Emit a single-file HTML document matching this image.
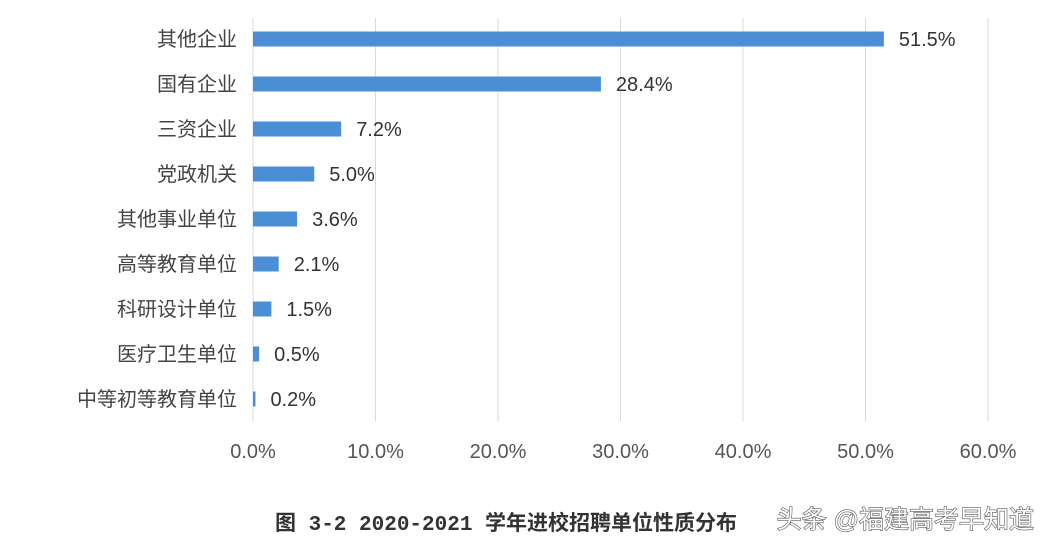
<!DOCTYPE html>
<html><head><meta charset="utf-8"><style>
html,body{margin:0;padding:0;background:#fff;}
body{width:1048px;height:546px;overflow:hidden;font-family:"Liberation Sans","Noto Sans CJK SC",sans-serif;}
</style></head><body>
<svg id="chart" width="1048" height="546" xmlns="http://www.w3.org/2000/svg" style="font-family:'Liberation Sans','Noto Sans CJK SC',sans-serif">
<g id="grid"></g>
<g id="bars"></g>
<g id="ylab"></g>
<g id="xlab"></g>
<text x="275" y="530" font-size="21" font-weight="bold" fill="#333" font-family="'Liberation Mono','Noto Sans CJK SC',monospace">图 3-2 2020-2021 学年进校招聘单位性质分布</text>
<text x="1034" y="528" text-anchor="end" font-size="25" fill="#fff" stroke="#555" stroke-width="1.2" paint-order="stroke">头条 @福建高考早知道</text>
</svg>
<script>
const categories=["其他企业","国有企业","三资企业","党政机关","其他事业单位","高等教育单位","科研设计单位","医疗卫生单位","中等初等教育单位"];
const values=[51.5,28.4,7.2,5.0,3.6,2.1,1.5,0.5,0.2];
const valueLabels=["51.5%","28.4%","7.2%","5.0%","3.6%","2.1%","1.5%","0.5%","0.2%"];
const ticks=[0,10,20,30,40,50,60];
const tickLabels=["0.0%","10.0%","20.0%","30.0%","40.0%","50.0%","60.0%"];
const NS="http://www.w3.org/2000/svg";
const x0=253,x1=988,maxV=60;
const xs=v=>x0+(v/maxV)*(x1-x0);
const yTop=17,band=45;
const yc=i=>yTop+band*i+22;
function mk(t,a,p){const e=document.createElementNS(NS,t);for(const k in a)e.setAttribute(k,a[k]);p.appendChild(e);return e;}
const g=document.getElementById('grid'),b=document.getElementById('bars'),yl=document.getElementById('ylab'),xl=document.getElementById('xlab');
ticks.forEach((t,i)=>{
 const l=mk('line',{x1:xs(t),x2:xs(t),y1:18,y2:421,stroke:'#d9d9d9','stroke-width':1},g);
 
 
 const tx=mk('text',{x:xs(t),y:458,'text-anchor':'middle','font-size':20,fill:'#555'},xl);
 tx.textContent=tickLabels[i];
 
 
});
categories.forEach((c,i)=>{
 const r=mk('rect',{x:x0,y:yc(i)-7.5,width:Math.max(1,xs(values[i])-x0),height:15,fill:'#4a8fd6'},b);
 
 
 const v=mk('text',{x:xs(values[i])+15,y:yc(i)+7,'font-size':20,fill:'#333'},b);
 v.textContent=valueLabels[i];
 
 
 const t=mk('text',{x:237,y:yc(i)+7,'text-anchor':'end','font-size':20,fill:'#444'},yl);
 t.textContent=c;
 
 
});
</script>
</body></html>
